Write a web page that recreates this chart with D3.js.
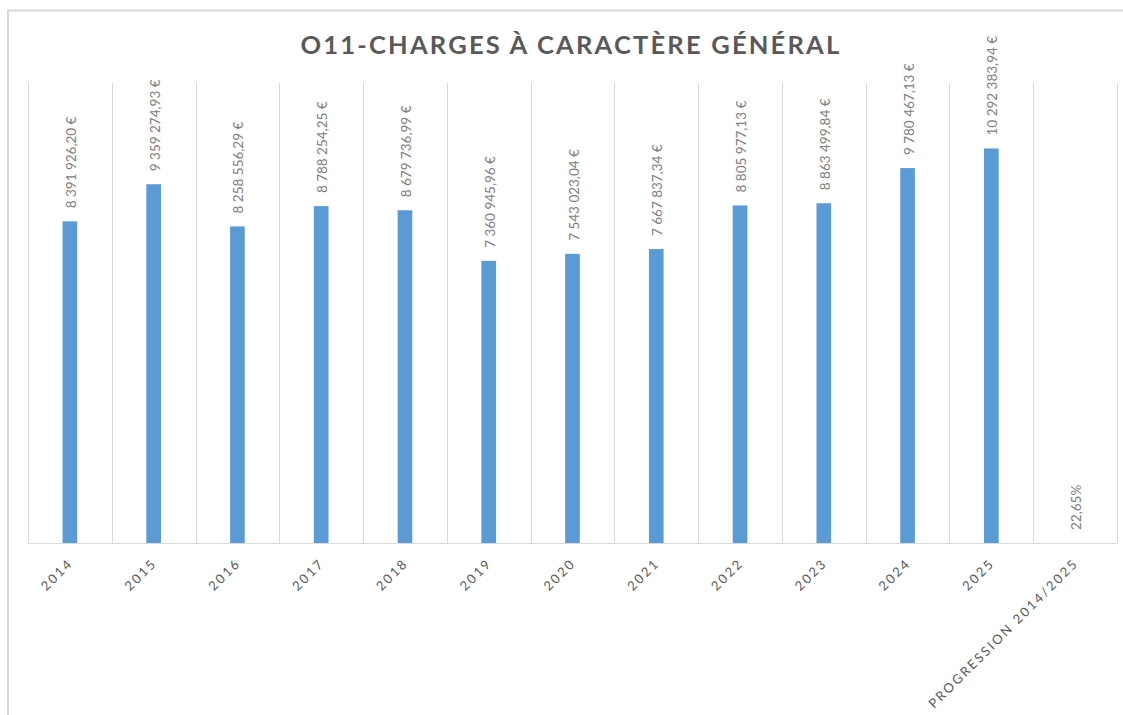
<!DOCTYPE html>
<html>
<head>
<meta charset="utf-8">
<title>O11-Charges à caractère général</title>
<script src="https://d3js.org/d3.v7.min.js"></script>
<style>
  body { margin: 0; background: #fff; }
  svg { display: block; font-family: Lato, "Open Sans", sans-serif; }
</style>
</head>
<body>
<div id="chart"></div>
<script>
const categories = ["2014", "2015", "2016", "2017", "2018", "2019", "2020", "2021", "2022", "2023", "2024", "2025", "PROGRESSION 2014/2025"];
const values = [8391926.20, 9359274.93, 8258556.29, 8788254.25, 8679736.99, 7360945.96, 7543023.04, 7667837.34, 8805977.13, 8863499.84, 9780467.13, 10292383.94, 0.2265];
const labels = ["8 391 926,20 €", "9 359 274,93 €", "8 258 556,29 €", "8 788 254,25 €", "8 679 736,99 €", "7 360 945,96 €", "7 543 023,04 €", "7 667 837,34 €", "8 805 977,13 €", "8 863 499,84 €", "9 780 467,13 €", "10 292 383,94 €", "22,65%"];
const yDomain = [0, 12000000];
const title = "O11-CHARGES À CARACTÈRE GÉNÉRAL";

const width = 1123, height = 715;
const margin = {top: 83, right: 6, bottom: 172, left: 28};

const svg = d3.select('#chart').append('svg')
    .attr('width', width)
    .attr('height', height);

// chart frame (top + left only visible)
svg.append('line')
    .attr('x1', 8).attr('x2', width).attr('y1', 10.5).attr('y2', 10.5)
    .attr('stroke', '#d9d9d9').attr('stroke-width', 2);
svg.append('line')
    .attr('x1', 8).attr('x2', 8).attr('y1', 10).attr('y2', height)
    .attr('stroke', '#d9d9d9').attr('stroke-width', 2);

const x = d3.scaleBand()
    .domain(categories)
    .range([margin.left, width - margin.right])
    .padding(0);

const y = d3.scaleLinear()
    .domain(yDomain)
    .range([height - margin.bottom, margin.top]);

const y0 = y(0);

// vertical gridlines at category boundaries
const bounds = categories.map(c => x(c)).concat([x.range()[1]]);
svg.append('g')
  .selectAll('line')
  .data(bounds)
  .join('line')
    .attr('x1', d => Math.round(d) + 0.5)
    .attr('x2', d => Math.round(d) + 0.5)
    .attr('y1', margin.top)
    .attr('y2', y0)
    .attr('stroke', '#d9d9d9');

// bars
const bw = x.bandwidth() * 0.175;
svg.append('g')
  .selectAll('rect')
  .data(categories)
  .join('rect')
    .attr('x', d => x(d) + x.bandwidth() / 2 - bw / 2)
    .attr('y', (d, i) => y(values[i]))
    .attr('width', bw)
    .attr('height', (d, i) => y0 - y(values[i]))
    .attr('fill', '#5b9bd5');

// axis line
svg.append('line')
    .attr('x1', x.range()[0]).attr('x2', x.range()[1])
    .attr('y1', y0 + 0.5).attr('y2', y0 + 0.5)
    .attr('stroke', '#d9d9d9');

// value labels (rotated)
svg.append('g')
  .selectAll('text')
  .data(categories)
  .join('text')
    .attr('transform', (d, i) => `translate(${x(d) + x.bandwidth() / 2 + 6},${y(values[i]) - 13}) rotate(-90)`)
    .attr('text-anchor', 'start')
    .attr('font-size', 13.5)
    .attr('fill', '#808080')
    .text((d, i) => labels[i]);

// category labels
svg.append('g')
  .selectAll('text')
  .data(categories)
  .join('text')
    .attr('transform', d => `translate(${x(d) + x.bandwidth() / 2 + 4},${y0 + 21}) rotate(-45)`)
    .attr('text-anchor', 'end')
    .attr('font-size', 13)
    .attr('letter-spacing', 2.2)
    .attr('fill', '#595959')
    .text(d => d);

// title
svg.append('text')
    .attr('x', 571)
    .attr('y', 54)
    .attr('text-anchor', 'middle')
    .attr('font-size', 25.5)
    .attr('font-weight', 'bold')
    .attr('letter-spacing', 2.2)
    .attr('fill', '#595959')
    .text(title);
</script>
</body>
</html>
